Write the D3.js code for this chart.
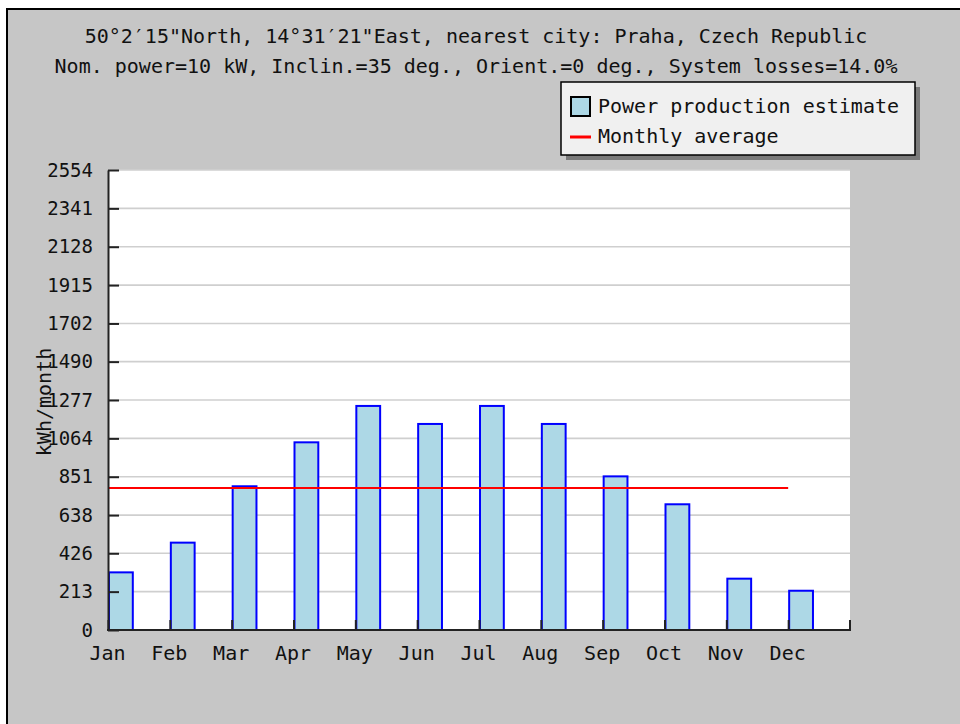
<!DOCTYPE html>
<html><head><meta charset="utf-8">
<script src="https://cdn.jsdelivr.net/npm/d3@7"></script>
<style>html,body{margin:0;padding:0;background:#fff;} svg{display:block;} text{font-family:"DejaVu Sans Mono",monospace;}</style>
</head><body><svg id="c" width="960" height="724"></svg>
<script>
const months = ["Jan","Feb","Mar","Apr","May","Jun","Jul","Aug","Sep","Oct","Nov","Dec"];
const production = [320,485,798,1042,1244,1144,1244,1144,853,698,285,218];
const monthlyAverage = 789;
const yTicks = [0,213,426,638,851,1064,1277,1490,1702,1915,2128,2341,2554];
const titleLines = ["50°2′15\"North, 14°31′21\"East, nearest city: Praha, Czech Republic",
                    "Nom. power=10 kW, Inclin.=35 deg., Orient.=0 deg., System losses=14.0%"];
const legendLabels = ["Power production estimate","Monthly average"];
const yLabel = "kWh/month";

const svg = d3.select("#c");
// panel
svg.append("rect").attr("x",7).attr("y",9).attr("width",970).attr("height",730)
  .attr("fill","#c6c6c6").attr("stroke","#000").attr("stroke-width",2);

const pL=108, pR=850, pT=170, pB=630;
const x = d3.scaleBand().domain(months).range([pL,pR]).padding(0);
const xp = d3.scalePoint().domain(months).range([pL, pL + x.step()*11]);
const y = d3.scaleLinear().domain([0,2554]).range([pB,pT]);

// plot background
svg.append("rect").attr("x",pL).attr("y",pT).attr("width",pR-pL).attr("height",pB-pT).attr("fill","#fff");

// gridlines
svg.append("g").selectAll("line").data(yTicks.filter(d=>d>0)).join("line")
  .attr("x1",pL).attr("x2",pR).attr("y1",d=>y(d)).attr("y2",d=>y(d))
  .attr("stroke","#cfcfcf").attr("stroke-width",1.6);

// bars
const bw = x.step()*0.385;
svg.append("g").selectAll("rect").data(production).join("rect")
  .attr("x",(d,i)=>x(months[i])+1).attr("width",bw)
  .attr("y",d=>y(d)).attr("height",d=>pB-y(d))
  .attr("fill","#add8e6").attr("stroke","#0000ff").attr("stroke-width",2);

// average line
svg.append("line").attr("x1",x("Jan")).attr("x2",x("Dec")).attr("y1",y(monthlyAverage)).attr("y2",y(monthlyAverage))
  .attr("stroke","#ff0000").attr("stroke-width",2);

// y axis
const ya = svg.append("g").attr("transform",`translate(${pL},0)`)
  .call(d3.axisLeft(y).tickValues(yTicks).tickFormat(d3.format("d")).tickSize(-11).tickPadding(15).tickSizeOuter(0));
ya.select(".domain").attr("stroke","#222").attr("stroke-width",2);
ya.selectAll(".tick line").attr("stroke","#222").attr("stroke-width",2);
ya.selectAll(".tick text").attr("font-size",19).attr("fill","#111").attr("font-family","DejaVu Sans Mono");

// x axis
const xa = svg.append("g").attr("transform",`translate(0,${pB})`)
  .call(d3.axisBottom(xp).tickSize(-10).tickSizeOuter(0));
xa.select(".domain").remove();
xa.selectAll(".tick line").attr("stroke","#222").attr("stroke-width",2);
xa.selectAll(".tick text").attr("y",30).attr("dy",0).attr("dx",-1).attr("font-size",20).attr("fill","#111").attr("font-family","DejaVu Sans Mono");
svg.append("line").attr("x1",pL-1).attr("x2",pR+1).attr("y1",pB).attr("y2",pB).attr("stroke","#222").attr("stroke-width",2);
svg.append("line").attr("x1",pR).attr("x2",pR).attr("y1",pB).attr("y2",pB-10).attr("stroke","#222").attr("stroke-width",2);

// y label
svg.append("text").attr("transform","translate(44,402) rotate(-90)")
  .attr("text-anchor","middle").attr("dominant-baseline","central")
  .attr("font-size",20).attr("fill","#111").text(yLabel);

// titles
svg.selectAll("text.title").data(titleLines).join("text").attr("class","title")
  .attr("x",476).attr("y",(d,i)=>43+i*30).attr("text-anchor","middle")
  .attr("font-size",20).attr("fill","#111").text(d=>d);

// legend
const lg = svg.append("g");
lg.append("rect").attr("x",566).attr("y",87).attr("width",354).attr("height",73).attr("fill","#7a7a7a");
lg.append("rect").attr("x",561).attr("y",82).attr("width",354).attr("height",73).attr("fill","#f0f0f0").attr("stroke","#000").attr("stroke-width",1.5);
lg.append("rect").attr("x",571).attr("y",97).attr("width",19).attr("height",19).attr("fill","#add8e6").attr("stroke","#000").attr("stroke-width",2);
lg.append("line").attr("x1",570).attr("x2",591).attr("y1",137).attr("y2",137).attr("stroke","#ff0000").attr("stroke-width",3);
lg.selectAll("text.lbl").data(legendLabels).join("text").attr("class","lbl")
  .attr("x",598).attr("y",(d,i)=>113+i*30).attr("font-size",20).attr("fill","#111").text(d=>d);
</script></body></html>
